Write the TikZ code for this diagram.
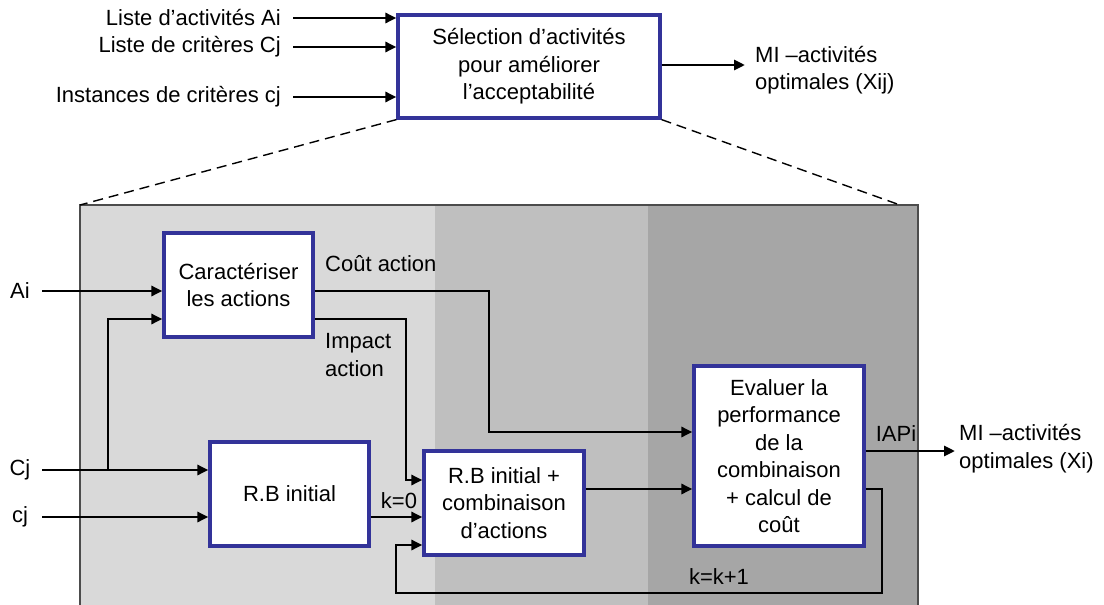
\documentclass[tikz,border=0pt]{standalone}
\usepackage{fontspec}
\setmainfont{Liberation Sans}
\usetikzlibrary{arrows.meta}
\definecolor{zoneA}{HTML}{D9D9D9}
\definecolor{zoneB}{HTML}{BFBFBF}
\definecolor{zoneC}{HTML}{A6A6A6}
\definecolor{boxblue}{HTML}{333399}
\tikzset{
  blk/.style={draw=boxblue, line width=3.2pt, fill=white, align=center, inner sep=2pt},
  arr/.style={line width=2.8pt, -{Triangle[length=11pt,width=10pt]}},
  lbl/.style={inner sep=0pt, align=left},
  zoomline/.style={dash pattern=on 10pt off 6pt, line width=1.4pt},
}
\begin{document}
\begin{tikzpicture}[x=1pt,y=-1pt, font=\fontsize{22}{27.5}\selectfont]
\useasboundingbox (0,0) rectangle (1104,605);
% panel zones
\fill[zoneA] (80,205) rectangle (435,605);
\fill[zoneB] (435,205) rectangle (648,605);
\fill[zoneC] (648,205) rectangle (918,605);
\draw[line width=1.6pt, draw=black!70] (80,605) -- (80,205) -- (918,205) -- (918,605);
% top box
\node[blk, minimum width=262pt, minimum height=103pt] (top) at (529,66.5) {Sélection d’activités\\pour améliorer\\l’acceptabilité};
\coordinate (pl) at (80,205);
\coordinate (pr) at (900,205);
\draw[zoomline] (top.south west) -- (pl);
\draw[zoomline] (top.south east) -- (pr);
% top inputs
\node[lbl, anchor=east] (lA) at (281,18) {Liste d’activités Ai};
\node[lbl, anchor=east] (lC) at (281,47) {Liste de critères Cj};
\node[lbl, anchor=east] (lc) at (281,97) {Instances de critères cj};
\draw[arr] ([xshift=12pt]lA.east) -- (lA.east -| top.west);
\draw[arr] ([xshift=12pt]lC.east) -- (lC.east -| top.west);
\draw[arr] ([xshift=12pt]lc.east) -- (lc.east -| top.west);
\node[lbl, anchor=west, align=left] (lout) at (755,70) {MI –activités\\optimales (Xij)};
\draw[arr] (top.east |- 0,65) -- (745,65);
% inner boxes
\node[blk, minimum width=149pt, minimum height=104pt] (car) at (238.5,285) {Caractériser\\les actions};
\node[blk, minimum width=159pt, minimum height=104pt] (rbi) at (289.5,494) {R.B initial};
\node[blk, minimum width=160pt, minimum height=104pt] (rbc) at (504,503) {R.B initial +\\combinaison\\d’actions};
\node[blk, minimum width=170pt, minimum height=180pt] (ev) at (779,456) {Evaluer la\\performance\\de la\\combinaison\\+ calcul de\\coût};
% inputs
\node[lbl] (Ai) at (20,291) {Ai};
\node[lbl] (Cj) at (20,470) {Cj};
\node[lbl] (cj) at (20,517) {cj};
\draw[arr] (42,291) -- (car.west |- Ai);
\draw[arr] (42,470) -- (rbi.west |- Cj);
\draw[arr] (42,517) -- (rbi.west |- cj);
\coordinate (br) at (108,470);
\draw[arr] (br) -- (108,319) -- (car.west |- 0,319);
% cost
\draw[arr] (car.east |- 0,291) -- (489,291) -- (489,432) -- (ev.west |- 0,432);
\node[lbl, anchor=west] (lcout) at (325,264) {Coût action};
% impact
\draw[arr] (car.east |- 0,319) -- (406,319) -- (406,480) -- (rbc.west |- 0,480);
\node[lbl, anchor=west] (limp) at (325,355) {Impact\\action};
% k=0
\draw[arr] (rbi.east |- 0,517) -- (rbc.west |- 0,517);
\node[lbl] (lk0) at (399,501) {k=0};
% rbc -> ev
\draw[arr] (rbc.east |- 0,489) -- (ev.west |- 0,489);
% output
\node[lbl, anchor=west, align=left] (lout2) at (959,448.5) {MI –activités\\optimales (Xi)};
\draw[arr] (ev.east |- 0,451) -- (955,451);
\node[lbl] (liap) at (896,434) {IAPi};
% feedback
\draw[arr] (ev.east |- 0,489) -- (882,489) -- (882,593) -- (396,593) -- (396,545) -- (rbc.west |- 0,545);
\node[lbl] (lkk) at (719,577) {k=k+1};
\end{tikzpicture}
\end{document}
